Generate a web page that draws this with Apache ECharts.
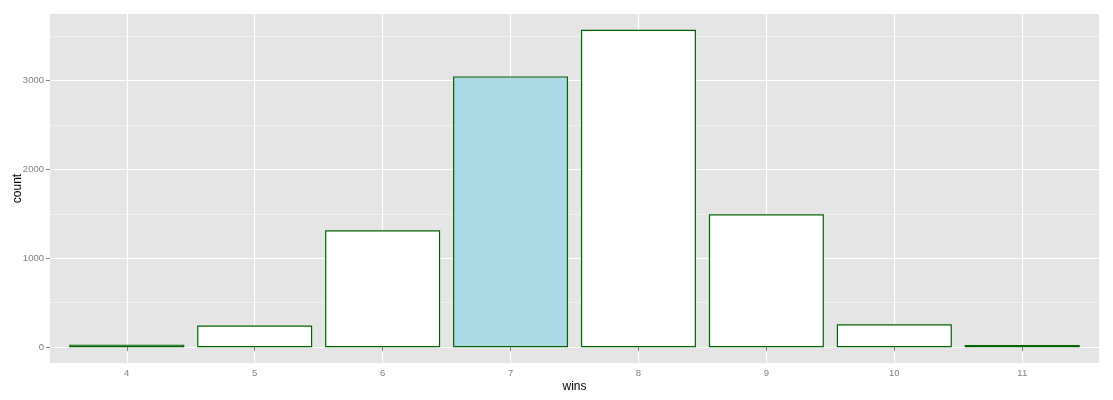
<!DOCTYPE html>
<html>
<head>
<meta charset="utf-8">
<script src="https://cdn.jsdelivr.net/npm/echarts@6/dist/echarts.min.js"></script>
<style>html,body{margin:0;padding:0;background:#fff}#c{width:1113px;height:400px}</style>
</head>
<body>
<div id="c"></div>
<script>
const wins = [4, 5, 6, 7, 8, 9, 10, 11];
const counts = [28, 243, 1316, 3049, 3573, 1497, 258, 25];
const highlightWin = 7;
const yMajorTicks = [0, 1000, 2000, 3000];
const yMinorTicks = [500, 1500, 2500, 3500];

const maxCount = Math.max(...counts);
const yPad = maxCount * 0.05;
const chart = echarts.init(document.getElementById('c'), null, {renderer: 'canvas'});
const font = 'Liberation Sans, Arial, sans-serif';
const grey50 = '#7f7f7f';

chart.setOption({
  animation: false,
  grid: {left: 50, right: 14, top: 14, bottom: 37, show: true, backgroundColor: '#e5e5e5', borderWidth: 0, containLabel: false, outerBoundsMode: 'none'},
  xAxis: {
    type: 'value', min: wins[0] - 0.6, max: wins[wins.length - 1] + 0.6,
    name: 'wins', nameLocation: 'middle', nameGap: 18, nameMoveOverlap: false,
    nameTextStyle: {color: '#000', fontSize: 12, fontFamily: font},
    axisLine: {show: false},
    axisTick: {show: true, length: 4, lineStyle: {color: grey50}, customValues: wins},
    axisLabel: {color: grey50, fontSize: 9.5, fontFamily: font, margin: 5, customValues: wins, formatter: v => String(v)},
    splitLine: {show: true, lineStyle: {color: '#ffffff', width: 1.2}}
  },
  yAxis: [{
    type: 'value', min: -yPad, max: maxCount + yPad,
    name: 'count', nameLocation: 'middle', nameGap: 26, nameMoveOverlap: false,
    nameTextStyle: {color: '#000', fontSize: 12, fontFamily: font},
    axisLine: {show: false},
    axisTick: {show: true, length: 4, lineStyle: {color: grey50}, customValues: yMajorTicks},
    axisLabel: {color: grey50, fontSize: 9.5, fontFamily: font, margin: 6, customValues: yMajorTicks, formatter: v => String(v)},
    splitLine: {show: true, lineStyle: {color: '#ffffff', width: 1.2}}
  }, {
    type: 'value', min: -yPad, max: maxCount + yPad, position: 'left',
    axisLine: {show: false},
    axisTick: {show: false, customValues: yMinorTicks},
    axisLabel: {show: false, customValues: yMinorTicks},
    splitLine: {show: true, lineStyle: {color: '#f2f2f2', width: 0.8}}
  }],
  series: [{
    type: 'bar',
    barWidth: 115,
    data: wins.map((w, i) => ({
      value: [w, counts[i]],
      itemStyle: {color: w === highlightWin ? '#add8e6' : '#ffffff', borderColor: '#006400', borderWidth: 1.2}
    }))
  }]
});
</script>
</body>
</html>
